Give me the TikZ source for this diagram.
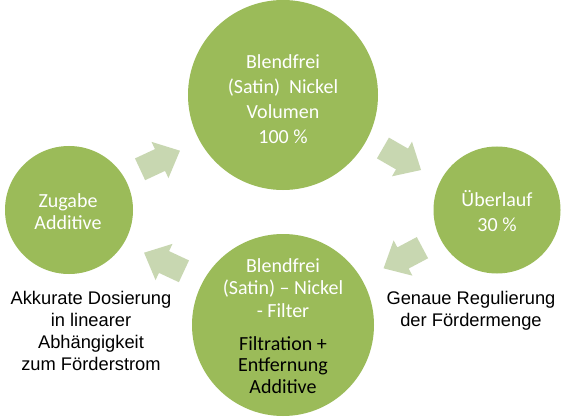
\documentclass[tikz,border=0pt]{standalone}
\usepackage{fontspec}
\setmainfont{Carlito}
\newfontfamily\arialf{Liberation Sans}
\definecolor{circgreen}{HTML}{9BBB59}
\definecolor{arrgreen}{HTML}{C8D7B1}
\tikzset{
  circ/.style={circle, fill=circgreen, inner sep=0pt, minimum size=#1},
  ctext/.style={align=center, text=white, inner sep=0pt, font=\fontsize{20}{25}\selectfont},
  side/.style={align=center, text=black, inner sep=0pt, font=\arialf\fontsize{18.3}{22}\selectfont},
  blockarrow/.pic={\fill[arrgreen] (-22,-12) -- (0,-12) -- (0,-20) -- (22,0) -- (0,20) -- (0,12) -- (-22,12) -- cycle;}
}
\begin{document}
\begin{tikzpicture}[x=1pt,y=-1pt]
\useasboundingbox (0,0) rectangle (565,417);
\clip (0,0) rectangle (565,417);
\fill[white] (0,0) rectangle (565,417);
% circles
\node[circ=190] (top) at (283,95) {};
\node[circ=182] (bot) at (283,325) {};
\node[circ=128] (left) at (69,210) {};
\node[circ=127] (right) at (497,210) {};
% circle texts
\node[ctext] (toptext) at (283,99) {Blendfrei\\(Satin)~~Nickel\\Volumen\\100 \%};
\node[ctext] (lefttext) at (68,212) {Zugabe\\[-3pt]Additive};
\node[ctext] (righttext) at (497,211) {Überlauf\\30 \%};
\node[ctext, font=\fontsize{20}{22.5}\selectfont] (bottext1) at (283,288) {Blendfrei\\(Satin) – Nickel\\- Filter};
\node[ctext, text=black, font=\fontsize{20}{21.5}\selectfont] (bottext2) at (283,365) {Filtration +\\Entfernung\\Additive};
% block arrows
\pic[rotate=25] (a1) at (160,160) {blockarrow};
\pic[rotate=-30] (a2) at (402,159) {blockarrow};
\pic[rotate=208] (a3) at (403,258) {blockarrow};
\pic[rotate=155] (a4) at (164,262) {blockarrow};
% side labels
\node[side] (lefttxt) at (91,331) {Akkurate Dosierung\\in linearer\\Abhängigkeit\\zum Förderstrom};
\node[side] (righttxt) at (471,311) {Genaue Regulierung\\der Fördermenge};
\end{tikzpicture}
\end{document}
